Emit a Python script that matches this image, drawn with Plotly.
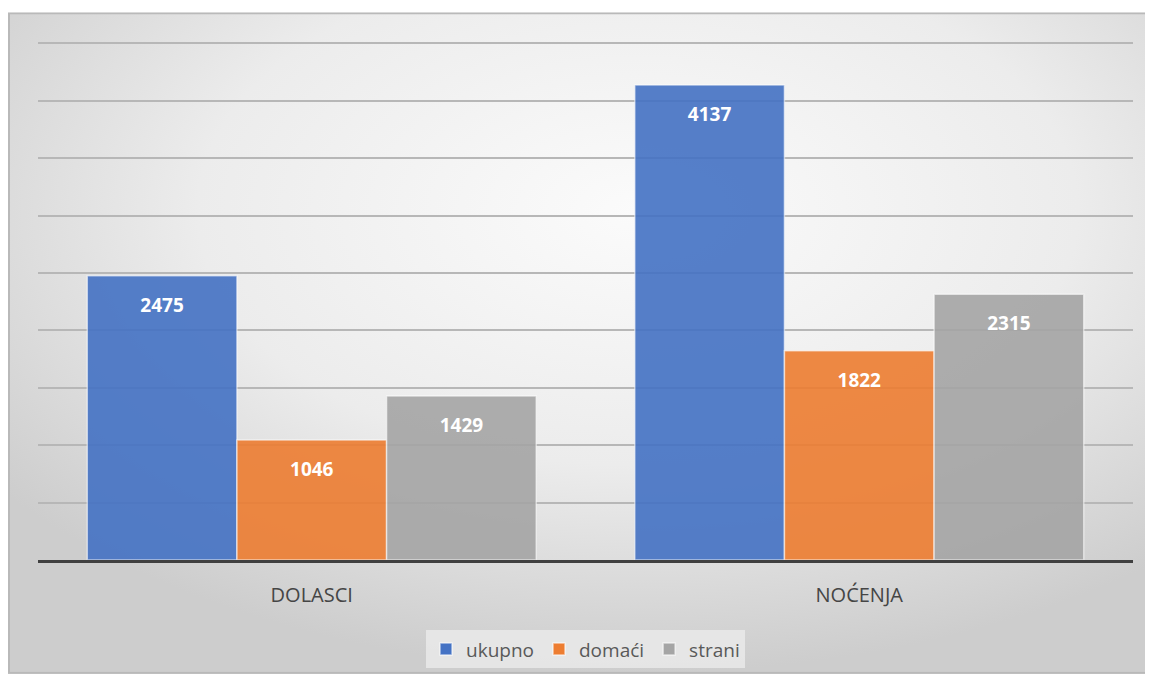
import base64
import plotly.graph_objects as go

categories = ["DOLASCI", "NOĆENJA"]
series_names = ["ukupno", "domaći", "strani"]
ukupno = [2475, 4137]
domaci = [1046, 1822]
strani = [1429, 2315]
colors = ["#4472C4", "#ED7D31", "#A5A5A5"]

W, H = 1145, 672
ml, mr, mt, mb = 30, 20, 33, 115
pw, ph = W - ml - mr, H - mt - mb

svg = (
    '<svg xmlns="http://www.w3.org/2000/svg" width="1145" height="668" viewBox="0 0 1145 668" preserveAspectRatio="none">'
    '<defs><radialGradient id="g" cx="55%" cy="30%" r="70%">'
    '<stop offset="0" stop-color="#fbfbfb"/><stop offset="0.55" stop-color="#ececec"/>'
    '<stop offset="1" stop-color="#cdcdcd"/></radialGradient></defs>'
    '<rect x="1" y="1" width="1143" height="666" fill="url(#g)" stroke="#b9b9b9" stroke-width="2"/></svg>'
)
src = "data:image/svg+xml;base64," + base64.b64encode(svg.encode()).decode()

fig = go.Figure()
all_vals = [ukupno, domaci, strani]
for name, vals, col in zip(series_names, all_vals, colors):
    fig.add_trace(go.Bar(
        name=name, x=categories, y=vals,
        marker=dict(color=col, opacity=0.9, line=dict(color="rgba(255,255,255,0.6)", width=1.5)),
        hoverinfo="skip",
    ))
for name, vals in zip(series_names, all_vals):
    fig.add_trace(go.Scatter(
        name=name, x=categories, y=vals, mode="markers+text",
        marker=dict(size=33, opacity=0),
        text=[str(v) for v in vals], textposition="bottom center",
        textfont=dict(family="Open Sans", size=19, color="white", weight="bold"),
        showlegend=False, hoverinfo="skip", cliponaxis=False,
    ))

fig.update_layout(
    width=W, height=H,
    margin=dict(l=ml, r=mr, t=mt, b=mb),
    paper_bgcolor="white", plot_bgcolor="rgba(0,0,0,0)",
    barmode="group", bargap=0.18, bargroupgap=0,
    scattermode="group", scattergap=0.18,
    showlegend=True,
    legend=dict(orientation="h", x=0.5, xanchor="center", y=-0.172, yanchor="middle",
                bgcolor="rgba(232,232,232,0.9)", font=dict(family="Open Sans", size=19, color="#595959"),
                itemwidth=30, traceorder="normal"),
    images=[dict(source=src, xref="paper", yref="paper",
                 x=-ml / pw, y=1 + (mt - 4) / ph,
                 sizex=W / pw, sizey=(H - 4) / ph,
                 xanchor="left", yanchor="top", sizing="stretch", layer="below")],
    font=dict(family="Open Sans", color="#595959"),
)
fig.update_yaxes(range=[0, 4520], tickvals=list(range(500, 4501, 500)), showticklabels=False, showgrid=True,
                 gridcolor="#b7b7b7", gridwidth=2, zeroline=False, fixedrange=True)
fig.update_xaxes(showline=True, linecolor="#404040", linewidth=3, showgrid=False,
                 tickfont=dict(family="Open Sans", size=20, color="#454545"), ticks="", ticklabelstandoff=15)

fig.write_html("out.html")
